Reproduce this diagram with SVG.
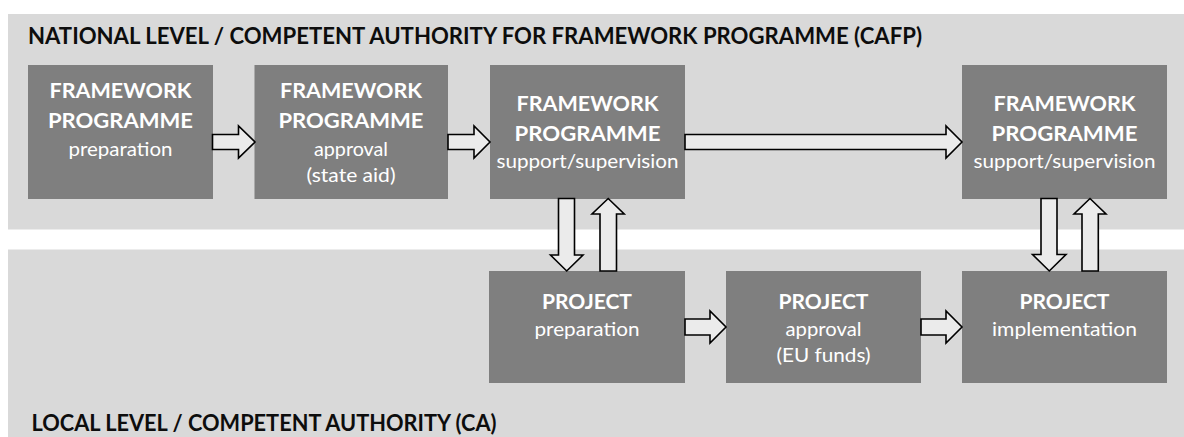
<svg xmlns="http://www.w3.org/2000/svg" width="1184" height="437" viewBox="0 0 1184 437">
  <style>
    .band { fill: #d9d9d9; }
    .box { fill: #7f7f7f; }
    .level { font-family: Lato, "Open Sans", "Liberation Sans", sans-serif; font-weight: 700; font-size: 23px; fill: #0d0d0d; }
    .hd { font-family: Lato, "Open Sans", "Liberation Sans", sans-serif; font-weight: 700; font-size: 21.5px; fill: #ffffff; text-anchor: middle; }
    .sub { font-family: Lato, "Open Sans", "Liberation Sans", sans-serif; font-weight: 400; font-size: 20px; fill: #ffffff; text-anchor: middle; }
    .arrow { fill: #ebebeb; stroke: #000000; stroke-width: 1.6; stroke-linejoin: miter; }
  </style>

  <!-- level bands -->
  <g id="national-level">
    <rect class="band" x="8" y="14" width="1176" height="215.5"/>
    <text class="level" x="28" y="44.3" textLength="894" lengthAdjust="spacingAndGlyphs">NATIONAL LEVEL / COMPETENT AUTHORITY FOR FRAMEWORK PROGRAMME (CAFP)</text>
  </g>
  <g id="local-level">
    <rect class="band" x="8" y="249.5" width="1176" height="187.5"/>
    <text class="level" x="31.5" y="430.5" textLength="465" lengthAdjust="spacingAndGlyphs">LOCAL LEVEL / COMPETENT AUTHORITY (CA)</text>
  </g>

  <!-- framework programme nodes -->
  <g id="fp-preparation">
    <rect class="box" x="28" y="65" width="185" height="134"/>
    <text class="hd" x="120.5" y="98.3" textLength="142" lengthAdjust="spacingAndGlyphs">FRAMEWORK</text>
    <text class="hd" x="120.5" y="128.3" textLength="145" lengthAdjust="spacingAndGlyphs">PROGRAMME</text>
    <text class="sub" x="120.5" y="155.5" textLength="104" lengthAdjust="spacingAndGlyphs">preparation</text>
  </g>
  <g id="fp-approval">
    <rect class="box" x="254.5" y="65" width="193.5" height="134"/>
    <text class="hd" x="351" y="98.3" textLength="142" lengthAdjust="spacingAndGlyphs">FRAMEWORK</text>
    <text class="hd" x="351" y="128.3" textLength="145" lengthAdjust="spacingAndGlyphs">PROGRAMME</text>
    <text class="sub" x="351" y="155.5" textLength="74" lengthAdjust="spacingAndGlyphs">approval</text>
    <text class="sub" x="351" y="182.3" textLength="89" lengthAdjust="spacingAndGlyphs">(state aid)</text>
  </g>
  <g id="fp-support-1">
    <rect class="box" x="490" y="65" width="195" height="134"/>
    <text class="hd" x="587.5" y="110.7" textLength="142" lengthAdjust="spacingAndGlyphs">FRAMEWORK</text>
    <text class="hd" x="587.5" y="140.7" textLength="146" lengthAdjust="spacingAndGlyphs">PROGRAMME</text>
    <text class="sub" x="587.5" y="168.3" textLength="182" lengthAdjust="spacingAndGlyphs">support/supervision</text>
  </g>
  <g id="fp-support-2">
    <rect class="box" x="962" y="65" width="205" height="134"/>
    <text class="hd" x="1064.5" y="110.7" textLength="142" lengthAdjust="spacingAndGlyphs">FRAMEWORK</text>
    <text class="hd" x="1064.5" y="140.7" textLength="146" lengthAdjust="spacingAndGlyphs">PROGRAMME</text>
    <text class="sub" x="1064.5" y="168.3" textLength="182" lengthAdjust="spacingAndGlyphs">support/supervision</text>
  </g>

  <!-- project nodes -->
  <g id="project-preparation">
    <rect class="box" x="489" y="271" width="196" height="112"/>
    <text class="hd" x="587" y="309" textLength="90" lengthAdjust="spacingAndGlyphs">PROJECT</text>
    <text class="sub" x="587" y="335.7" textLength="105" lengthAdjust="spacingAndGlyphs">preparation</text>
  </g>
  <g id="project-approval">
    <rect class="box" x="726" y="271" width="195" height="112"/>
    <text class="hd" x="823.5" y="309" textLength="90" lengthAdjust="spacingAndGlyphs">PROJECT</text>
    <text class="sub" x="823.5" y="335.7" textLength="76" lengthAdjust="spacingAndGlyphs">approval</text>
    <text class="sub" x="823.5" y="362" textLength="94" lengthAdjust="spacingAndGlyphs">(EU funds)</text>
  </g>
  <g id="project-implementation">
    <rect class="box" x="962" y="271" width="205" height="112"/>
    <text class="hd" x="1064.5" y="309" textLength="90" lengthAdjust="spacingAndGlyphs">PROJECT</text>
    <text class="sub" x="1064.5" y="335.7" textLength="145" lengthAdjust="spacingAndGlyphs">implementation</text>
  </g>

  <!-- block arrows between nodes -->
  <g id="connectors">
    <polygon class="arrow" points="212.5,134.5 238.5,134.5 238.5,126 255,142 238.5,158 238.5,149.5 212.5,149.5"/>
    <polygon class="arrow" points="448,134.5 474,134.5 474,126 490,142 474,158 474,149.5 448,149.5"/>
    <polygon class="arrow" points="685,134.5 946,134.5 946,126 962,142 946,158 946,149.5 685,149.5"/>

    <polygon class="arrow" points="558.5,198.5 574.5,198.5 574.5,255 583,255 566.7,271 550.5,255 558.5,255"/>
    <polygon class="arrow" points="600,271 600,214 592,214 608.2,198.5 624.2,214 616.5,214 616.5,271"/>
    <polygon class="arrow" points="1041,198.5 1057,198.5 1057,254.5 1066,254.5 1049.3,271 1032.5,254.5 1041,254.5"/>
    <polygon class="arrow" points="1082,271 1082,214 1074,214 1090,198.5 1106,214 1098.3,214 1098.3,271"/>

    <polygon class="arrow" points="685,319 710,319 710,311 726,327 710,343 710,335 685,335"/>
    <polygon class="arrow" points="921,319 946,319 946,311 962,327 946,343 946,335 921,335"/>
  </g>
</svg>
